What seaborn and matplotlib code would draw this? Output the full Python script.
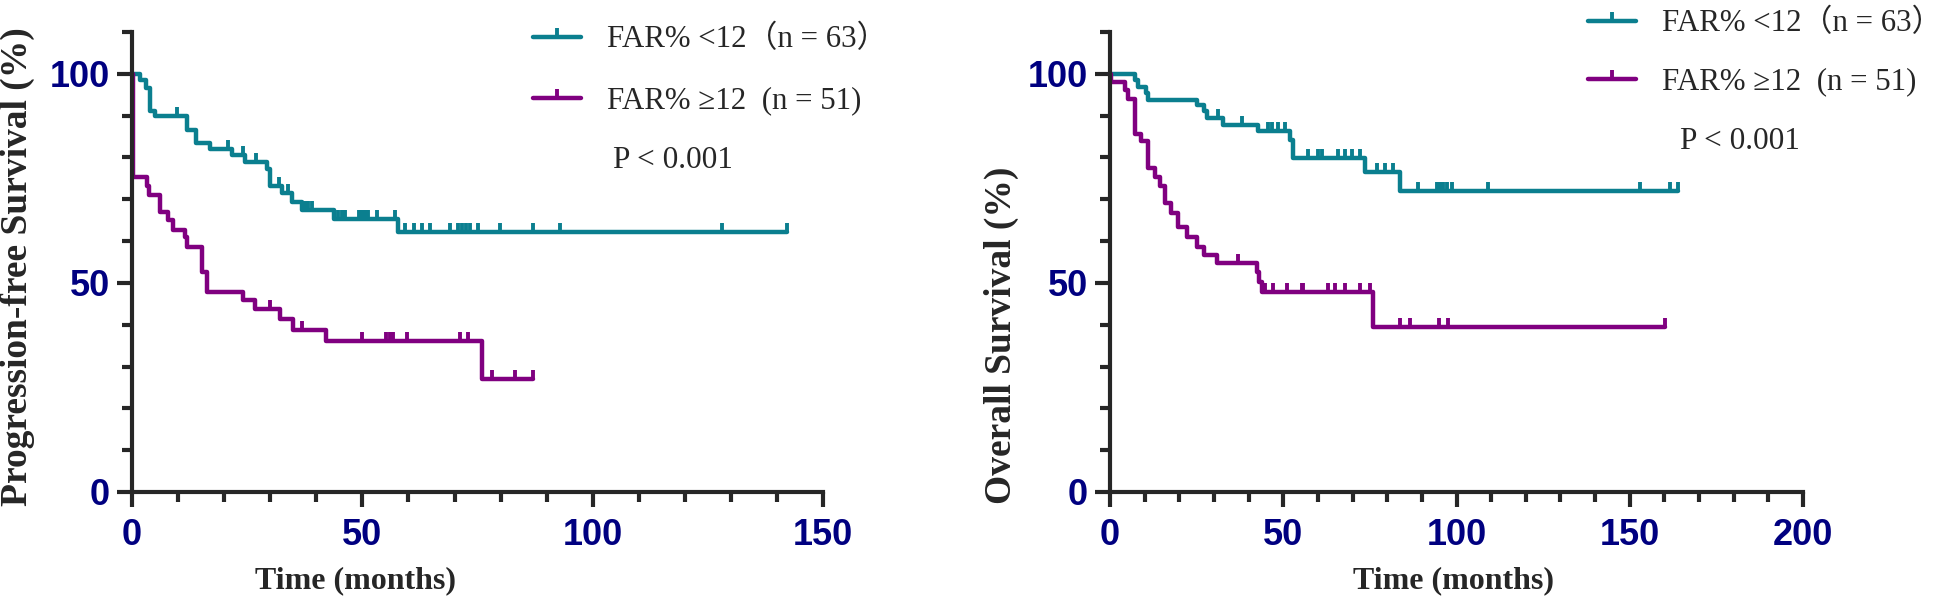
import numpy as np
import pandas as pd
import seaborn as sns
import matplotlib.pyplot as plt
from matplotlib.lines import Line2D
from matplotlib.ticker import MultipleLocator

# PFS curves (step times in months, survival in %), censor marks
pfs_low_t = [0, 1.7, 3.0, 3.9, 4.9, 11.9, 13.9, 16.9, 21.6, 24.5, 29.2, 30.0, 32.5, 34.7, 36.9, 43.9, 57.8, 142.2]
pfs_low_s = [100, 98.4, 96.6, 91.2, 89.8, 86.5, 83.4, 81.9, 80.5, 79.0, 77.3, 73.2, 71.5, 69.3, 67.4, 65.2, 62.2, 62.2]
pfs_low_cens = [9.8, 20.9, 24.0, 27.0, 31.9, 33.9, 37.6, 38.3, 39.0, 44.8, 45.6, 46.3, 49.2, 49.9, 50.6, 51.3,
                53.1, 57.1, 59.3, 61.1, 62.9, 64.7, 69.0, 70.8, 71.6, 72.5, 73.4, 75.2, 79.9, 87.1, 92.9, 128.0, 142.2]

pfs_high_t = [0, 0.3, 3.2, 3.7, 6.1, 7.9, 9.0, 11.5, 11.9, 15.3, 16.2, 24.2, 26.8, 32.1, 34.9, 42.1, 75.9, 87.1]
pfs_high_s = [100, 75.3, 73.2, 70.9, 67.0, 65.0, 62.6, 61.0, 58.6, 52.6, 47.8, 45.9, 43.7, 41.3, 38.7, 36.0, 26.9, 26.9]
pfs_high_cens = [30.0, 36.9, 50.0, 55.1, 56.0, 56.7, 59.6, 71.1, 73.0, 78.1, 83.1, 87.1]

# OS curves
os_low_t = [0, 7.2, 8.2, 10.3, 11.1, 25.0, 27.0, 27.9, 32.7, 42.8, 52.0, 52.9, 73.6, 83.7, 164.0]
os_low_s = [100, 98.5, 96.9, 95.3, 93.8, 92.6, 91.2, 89.4, 87.8, 86.2, 84.2, 79.8, 76.6, 71.9, 71.9]
os_low_cens = [31.3, 38.0, 45.7, 46.7, 48.6, 50.5, 57.2, 60.1, 61.1, 65.9, 67.8, 69.8, 72.2, 77.0, 79.4, 81.8,
               89.0, 94.3, 95.3, 96.2, 97.2, 98.6, 109.2, 153.0, 161.6, 164.0]

os_high_t = [0, 0.3, 4.2, 5.1, 7.2, 9.0, 11.1, 13.0, 14.4, 15.9, 17.6, 19.7, 22.1, 25.0, 27.2, 30.8,
             42.3, 43.0, 43.8, 76.0, 160.2]
os_high_s = [100, 98.0, 96.2, 94.0, 85.5, 83.9, 77.5, 75.2, 73.2, 69.2, 66.8, 63.3, 60.9, 58.5, 56.7, 54.7,
             52.5, 50.1, 47.7, 39.4, 39.4]
os_high_cens = [37.0, 44.7, 47.1, 51.0, 55.3, 55.8, 63.0, 64.9, 67.8, 72.2, 75.1, 83.7, 86.6, 94.8, 97.6, 160.2]

group_labels = ['FAR% <12（n = 63）', 'FAR% ≥12  (n = 51)']
p_text = 'P < 0.001'

TEAL = '#0b7f8f'
PURPLE = '#800080'
NAVY = '#000080'
TICK = [(0, 0), (0, 1)]  # upward censor tick

sns.set_style('ticks')
plt.rcParams['font.family'] = ['Liberation Serif', 'Noto Sans CJK SC']


def draw_panel(ax, curves, xmax, ylabel, ylab_pos, xlab_x):
    for (t, s, cens), color in zip(curves, (TEAL, PURPLE)):
        df = pd.DataFrame({'time': t, 'surv': s})
        sns.lineplot(data=df, x='time', y='surv', ax=ax, color=color, linewidth=3.2,
                     drawstyle='steps-post', estimator=None, sort=False, clip_on=False)
        idx = np.searchsorted(t, cens, side='right') - 1
        ax.plot(cens, np.asarray(s)[idx], ls='none', marker=TICK, ms=13, mew=2.8,
                color=color, clip_on=False)

    ax.set_xlim(0, xmax)
    ax.set_ylim(0, 110)
    ax.xaxis.set_major_locator(MultipleLocator(50))
    ax.xaxis.set_minor_locator(MultipleLocator(10))
    ax.yaxis.set_major_locator(MultipleLocator(50))
    ax.yaxis.set_minor_locator(MultipleLocator(10))
    sns.despine(ax=ax)
    for sp in ('left', 'bottom'):
        ax.spines[sp].set_linewidth(3)
    ax.tick_params(which='major', length=11, width=3, labelsize=26, labelcolor=NAVY)
    ax.tick_params(which='minor', length=7, width=3)
    ax.tick_params(axis='x', which='major', pad=8)
    ax.tick_params(axis='y', which='major', pad=5)
    for lab in ax.get_xticklabels() + ax.get_yticklabels():
        lab.set_fontfamily('Liberation Sans')
        lab.set_fontweight('bold')

    ax.set_xlabel('Time (months)', fontsize=23, fontweight='bold')
    ax.xaxis.set_label_coords(xlab_x, -0.192)
    ax.xaxis.label.set_va('center')
    ax.set_ylabel(ylabel, fontsize=27, fontweight='bold')
    ax.yaxis.set_label_coords(*ylab_pos)
    ax.yaxis.label.set_va('center')


fig = plt.figure(figsize=(19.44, 6.11), dpi=100)
ax1 = fig.add_axes([0.0679, 0.1948, 0.3555, 0.753])
ax2 = fig.add_axes([0.571, 0.1948, 0.3565, 0.753])

draw_panel(ax1, [(pfs_low_t, pfs_low_s, pfs_low_cens), (pfs_high_t, pfs_high_s, pfs_high_cens)],
           150, 'Progression-free Survival (%)', (-0.166, 0.49), 0.324)
draw_panel(ax2, [(os_low_t, os_low_s, os_low_cens), (os_high_t, os_high_s, os_high_cens)],
           200, 'Overall Survival (%)', (-0.156, 0.34), 0.495)

handles = [Line2D([], [], color=c, linewidth=3.2, marker=TICK, ms=13, mew=2.8) for c in (TEAL, PURPLE)]
legend_spots = ((ax1, (533, 25), (613, 161), 1.05), (ax2, (1588, 9), (1680, 141), 0.95))
for ax, (lx, ly), (px, py), spacing in legend_spots:
    ax.legend(handles, group_labels, loc='upper left', bbox_to_anchor=(lx / 1944, 1 - ly / 611),
              bbox_transform=fig.transFigure, frameon=False, borderpad=0, borderaxespad=0,
              handlelength=1.55, handletextpad=0.85, labelspacing=spacing,
              prop={'family': ['Liberation Serif', 'Noto Sans CJK SC'], 'size': 22.2})
    fig.text(px / 1944, 1 - py / 611, p_text, fontsize=22.5, va='center')

fig.savefig('out.png', dpi=100)
